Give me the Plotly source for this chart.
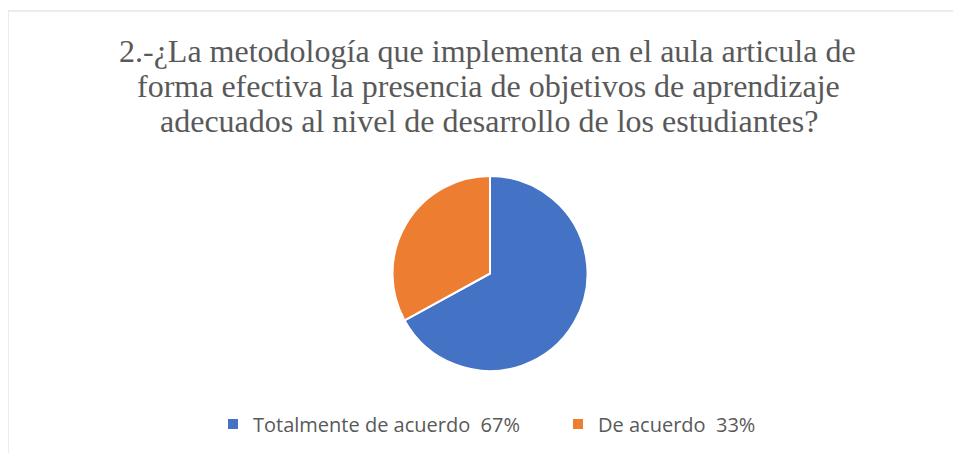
import plotly.graph_objects as go

labels = ["Totalmente de acuerdo\u00a0\u00a067%", "De acuerdo\u00a0\u00a033%"]
values = [67, 33]
colors = ["#4472C4", "#ED7D31"]
title_lines = [
    "2.-¿La metodología que implementa en el aula articula de",
    "forma efectiva la presencia de objetivos de aprendizaje",
    "adecuados al nivel de desarrollo de los estudiantes?",
]
title_x = [488, 489, 489]
title_y = [51, 86.5, 121.5]

OFF = 8  # page offset of the figure inside the browser
W, H = 961 - OFF, 453 - OFF


def px(x):
    return (x - OFF) / W


def py(y):
    return 1 - (y - OFF) / H


fig = go.Figure(go.Pie(
    labels=labels, values=values, sort=False, direction="clockwise", rotation=0,
    marker=dict(colors=colors, line=dict(color="white", width=2)),
    textinfo="none", hoverinfo="label+value",
    domain=dict(x=[px(392), px(588)], y=[py(371), py(176)]),
))
annotations = [
    dict(text=t, x=px(xx), y=py(yy), xref="paper", yref="paper", xanchor="center", yanchor="middle",
         showarrow=False, font=dict(family="Liberation Serif", size=32, color="#595959"))
    for t, xx, yy in zip(title_lines, title_x, title_y)
]
fig.update_layout(
    width=W, height=H,
    margin=dict(l=0, r=0, t=0, b=0, autoexpand=False),
    paper_bgcolor="white", plot_bgcolor="white",
    annotations=annotations,
    showlegend=True,
    legend=dict(orientation="h", x=px(213), xanchor="left", y=py(424), yanchor="middle",
                font=dict(family="Open Sans", size=20, color="#595959"),
                itemwidth=30, tracegroupgap=0, entrywidth=300, entrywidthmode="pixels"),
    shapes=[
        dict(type="line", xref="paper", yref="paper", x0=px(8), x1=1.01, y0=py(11), y1=py(11),
             line=dict(color="#D9D9D9", width=1)),
        dict(type="line", xref="paper", yref="paper", x0=px(8), x1=px(8), y0=py(11), y1=-0.01,
             line=dict(color="#D9D9D9", width=1)),
    ],
)
fig.write_html("out.html")
